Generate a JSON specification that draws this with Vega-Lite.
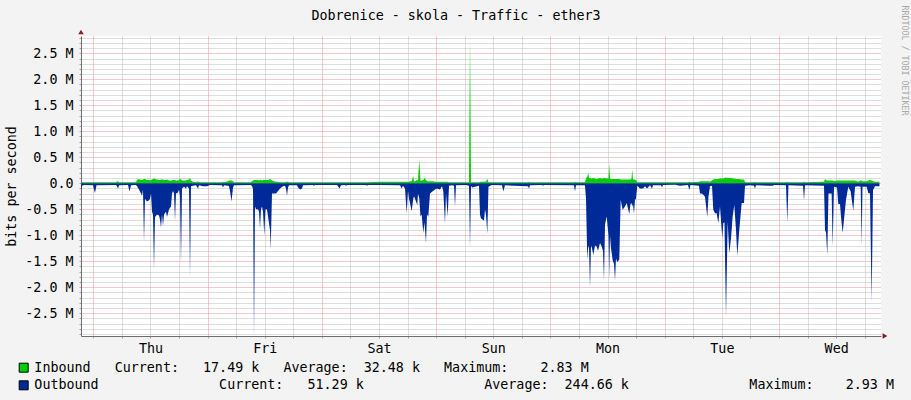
{
  "$schema": "https://vega.github.io/schema/vega-lite/v6.json",
  "width": 800,
  "height": 300,
  "autosize": {"type": "none"},
  "padding": {"left": 81, "top": 36, "right": 30, "bottom": 64},
  "background": "#F3F3F3",
  "config": {
    "view": {"stroke": null, "fill": "#FFFFFF"},
    "font": "DejaVu Sans Mono",
    "axis": {
      "labelFont": "DejaVu Sans Mono",
      "titleFont": "DejaVu Sans Mono",
      "labelFontSize": 13.35,
      "titleFontSize": 13.35,
      "labelColor": "#000000",
      "titleColor": "#000000",
      "titleFontWeight": "normal"
    }
  },
  "data": {
    "values": [
      {"h": -2.58, "i": 0.02, "o": -0.15},
      {"h": -2.37, "i": 0.02, "o": -0.05},
      {"h": -1.95, "i": 0.02, "o": -0.035},
      {"h": -0.06, "i": 0.02, "o": -0.04},
      {"h": 0.15, "i": 0.02, "o": -0.12},
      {"h": 0.36, "i": 0.02, "o": -0.19},
      {"h": 0.67, "i": 0.02, "o": -0.04},
      {"h": 4.77, "i": 0.02, "o": -0.035},
      {"h": 4.98, "i": 0.04, "o": -0.06},
      {"h": 5.19, "i": 0.04, "o": -0.1},
      {"h": 5.4, "i": 0.02, "o": -0.04},
      {"h": 7.29, "i": 0.02, "o": -0.035},
      {"h": 7.6, "i": 0.02, "o": -0.16},
      {"h": 7.92, "i": 0.02, "o": -0.04},
      {"h": 8.97, "i": 0.02, "o": -0.035},
      {"h": 9.18, "i": 0.06, "o": -0.06},
      {"h": 9.6, "i": 0.08, "o": -0.12},
      {"h": 10.02, "i": 0.06, "o": -0.2},
      {"h": 10.23, "i": 0.06, "o": -0.24},
      {"h": 10.44, "i": 0.07, "o": -0.12},
      {"h": 10.65, "i": 0.08, "o": -1.12},
      {"h": 10.86, "i": 0.08, "o": -0.3},
      {"h": 11.28, "i": 0.06, "o": -0.35},
      {"h": 11.7, "i": 0.06, "o": -0.33},
      {"h": 11.91, "i": 0.05, "o": -0.3},
      {"h": 12.12, "i": 0.06, "o": -0.2},
      {"h": 12.33, "i": 0.07, "o": -0.55},
      {"h": 12.54, "i": 0.08, "o": -0.6},
      {"h": 12.75, "i": 0.09, "o": -1.65},
      {"h": 12.96, "i": 0.08, "o": -0.65},
      {"h": 13.38, "i": 0.07, "o": -0.6},
      {"h": 13.8, "i": 0.06, "o": -0.62},
      {"h": 14.01, "i": 0.06, "o": -0.7},
      {"h": 14.22, "i": 0.07, "o": -0.85},
      {"h": 14.43, "i": 0.07, "o": -0.6},
      {"h": 14.64, "i": 0.07, "o": -0.82},
      {"h": 14.85, "i": 0.06, "o": -0.6},
      {"h": 15.27, "i": 0.06, "o": -0.55},
      {"h": 15.48, "i": 0.07, "o": -0.65},
      {"h": 15.9, "i": 0.05, "o": -0.5},
      {"h": 16.32, "i": 0.05, "o": -0.45},
      {"h": 16.53, "i": 0.05, "o": -0.2},
      {"h": 16.74, "i": 0.06, "o": -0.15},
      {"h": 16.95, "i": 0.06, "o": -0.2},
      {"h": 17.16, "i": 0.06, "o": -0.72},
      {"h": 17.37, "i": 0.05, "o": -0.2},
      {"h": 17.79, "i": 0.05, "o": -0.18},
      {"h": 18.0, "i": 0.06, "o": -0.12},
      {"h": 18.21, "i": 0.09, "o": -0.25},
      {"h": 18.42, "i": 0.07, "o": -1.54},
      {"h": 18.63, "i": 0.05, "o": -0.1},
      {"h": 19.05, "i": 0.05, "o": -0.07},
      {"h": 19.47, "i": 0.05, "o": -0.1},
      {"h": 19.68, "i": 0.06, "o": -0.06},
      {"h": 20.1, "i": 0.07, "o": -0.1},
      {"h": 20.31, "i": 0.1, "o": -1.79},
      {"h": 20.52, "i": 0.05, "o": -0.06},
      {"h": 20.94, "i": 0.03, "o": -0.05},
      {"h": 21.57, "i": 0.02, "o": -0.04},
      {"h": 21.99, "i": 0.04, "o": -0.1},
      {"h": 22.2, "i": 0.02, "o": -0.04},
      {"h": 23.04, "i": 0.02, "o": -0.06},
      {"h": 23.88, "i": 0.02, "o": -0.06},
      {"h": 24.51, "i": 0.02, "o": -0.035},
      {"h": 27.03, "i": 0.02, "o": -0.04},
      {"h": 27.24, "i": 0.03, "o": -0.08},
      {"h": 27.45, "i": 0.02, "o": -0.04},
      {"h": 28.29, "i": 0.04, "o": -0.05},
      {"h": 28.5, "i": 0.05, "o": -0.06},
      {"h": 28.71, "i": 0.05, "o": -0.15},
      {"h": 29.02, "i": 0.05, "o": -0.35},
      {"h": 29.34, "i": 0.04, "o": -0.08},
      {"h": 29.55, "i": 0.02, "o": -0.04},
      {"h": 33.12, "i": 0.02, "o": -0.035},
      {"h": 33.33, "i": 0.04, "o": -0.06},
      {"h": 33.54, "i": 0.05, "o": -0.1},
      {"h": 33.75, "i": 0.06, "o": -2.94},
      {"h": 33.96, "i": 0.06, "o": -0.45},
      {"h": 34.17, "i": 0.06, "o": -0.5},
      {"h": 34.59, "i": 0.06, "o": -0.5},
      {"h": 34.8, "i": 0.05, "o": -0.55},
      {"h": 35.01, "i": 0.06, "o": -0.87},
      {"h": 35.22, "i": 0.06, "o": -0.5},
      {"h": 35.43, "i": 0.05, "o": -0.45},
      {"h": 35.64, "i": 0.06, "o": -0.55},
      {"h": 35.91, "i": 0.06, "o": -1.0},
      {"h": 36.16, "i": 0.06, "o": -0.5},
      {"h": 36.48, "i": 0.06, "o": -0.5},
      {"h": 36.79, "i": 0.06, "o": -0.7},
      {"h": 37.11, "i": 0.08, "o": -0.9},
      {"h": 37.25, "i": 0.07, "o": -1.28},
      {"h": 37.53, "i": 0.05, "o": -0.2},
      {"h": 37.95, "i": 0.04, "o": -0.2},
      {"h": 38.37, "i": 0.03, "o": -0.2},
      {"h": 38.79, "i": 0.03, "o": -0.15},
      {"h": 39.21, "i": 0.02, "o": -0.1},
      {"h": 39.84, "i": 0.02, "o": -0.06},
      {"h": 40.26, "i": 0.02, "o": -0.05},
      {"h": 40.47, "i": 0.03, "o": -0.1},
      {"h": 40.68, "i": 0.03, "o": -0.24},
      {"h": 40.89, "i": 0.03, "o": -0.08},
      {"h": 41.1, "i": 0.02, "o": -0.04},
      {"h": 42.78, "i": 0.02, "o": -0.04},
      {"h": 42.99, "i": 0.02, "o": -0.08},
      {"h": 43.41, "i": 0.02, "o": -0.12},
      {"h": 43.83, "i": 0.02, "o": -0.1},
      {"h": 44.04, "i": 0.02, "o": -0.04},
      {"h": 46.14, "i": 0.02, "o": -0.035},
      {"h": 46.35, "i": 0.02, "o": -0.05},
      {"h": 46.56, "i": 0.02, "o": -0.035},
      {"h": 51.18, "i": 0.02, "o": -0.035},
      {"h": 51.39, "i": 0.02, "o": -0.06},
      {"h": 51.7, "i": 0.02, "o": -0.1},
      {"h": 52.02, "i": 0.02, "o": -0.04},
      {"h": 52.86, "i": 0.02, "o": -0.035},
      {"h": 53.07, "i": 0.02, "o": -0.05},
      {"h": 53.28, "i": 0.02, "o": -0.035},
      {"h": 57.27, "i": 0.02, "o": -0.035},
      {"h": 57.48, "i": 0.02, "o": -0.05},
      {"h": 57.69, "i": 0.02, "o": -0.035},
      {"h": 60.21, "i": 0.03, "o": -0.035},
      {"h": 64.41, "i": 0.03, "o": -0.04},
      {"h": 64.76, "i": 0.03, "o": -0.1},
      {"h": 65.04, "i": 0.03, "o": -0.05},
      {"h": 65.46, "i": 0.03, "o": -0.1},
      {"h": 65.81, "i": 0.03, "o": -0.58},
      {"h": 66.09, "i": 0.03, "o": -0.15},
      {"h": 66.3, "i": 0.03, "o": -0.3},
      {"h": 66.51, "i": 0.04, "o": -0.38},
      {"h": 66.86, "i": 0.04, "o": -0.54},
      {"h": 67.2, "i": 0.14, "o": -0.3},
      {"h": 67.35, "i": 0.04, "o": -0.25},
      {"h": 67.56, "i": 0.04, "o": -0.3},
      {"h": 68.04, "i": 0.06, "o": -0.42},
      {"h": 68.19, "i": 0.05, "o": -0.2},
      {"h": 68.46, "i": 0.45, "o": -0.3},
      {"h": 68.71, "i": 0.05, "o": -0.64},
      {"h": 68.96, "i": 0.05, "o": -0.6},
      {"h": 69.3, "i": 0.06, "o": -0.96},
      {"h": 69.55, "i": 0.1, "o": -0.75},
      {"h": 69.87, "i": 0.06, "o": -1.15},
      {"h": 70.08, "i": 0.04, "o": -0.6},
      {"h": 70.35, "i": 0.04, "o": -0.64},
      {"h": 70.71, "i": 0.04, "o": -0.2},
      {"h": 71.34, "i": 0.04, "o": -0.15},
      {"h": 71.76, "i": 0.03, "o": -0.12},
      {"h": 72.18, "i": 0.03, "o": -0.1},
      {"h": 72.81, "i": 0.03, "o": -0.12},
      {"h": 73.23, "i": 0.03, "o": -0.06},
      {"h": 73.5, "i": 0.03, "o": -0.15},
      {"h": 73.86, "i": 0.03, "o": -0.78},
      {"h": 74.07, "i": 0.03, "o": -0.2},
      {"h": 74.42, "i": 0.03, "o": -0.64},
      {"h": 74.7, "i": 0.02, "o": -0.05},
      {"h": 75.33, "i": 0.02, "o": -0.04},
      {"h": 75.75, "i": 0.02, "o": -0.05},
      {"h": 75.96, "i": 0.02, "o": -0.45},
      {"h": 76.17, "i": 0.02, "o": -0.04},
      {"h": 78.27, "i": 0.02, "o": -0.035},
      {"h": 78.9, "i": 0.02, "o": -0.05},
      {"h": 79.11, "i": 2.833, "o": -1.24},
      {"h": 79.32, "i": 0.02, "o": -0.05},
      {"h": 79.53, "i": 0.02, "o": -0.08},
      {"h": 81.0, "i": 0.02, "o": -0.05},
      {"h": 81.21, "i": 0.03, "o": -0.6},
      {"h": 81.42, "i": 0.03, "o": -0.68},
      {"h": 81.73, "i": 0.03, "o": -0.7},
      {"h": 82.05, "i": 0.03, "o": -0.72},
      {"h": 82.26, "i": 0.03, "o": -0.5},
      {"h": 82.47, "i": 0.04, "o": -0.6},
      {"h": 82.74, "i": 0.08, "o": -0.97},
      {"h": 82.99, "i": 0.02, "o": -0.07},
      {"h": 83.31, "i": 0.02, "o": -0.05},
      {"h": 83.73, "i": 0.02, "o": -0.035},
      {"h": 85.83, "i": 0.02, "o": -0.04},
      {"h": 86.1, "i": 0.02, "o": -0.16},
      {"h": 86.46, "i": 0.02, "o": -0.04},
      {"h": 91.29, "i": 0.02, "o": -0.06},
      {"h": 91.5, "i": 0.03, "o": -0.1},
      {"h": 91.71, "i": 0.02, "o": -0.04},
      {"h": 94.23, "i": 0.02, "o": -0.035},
      {"h": 94.44, "i": 0.02, "o": -0.05},
      {"h": 94.65, "i": 0.02, "o": -0.035},
      {"h": 100.95, "i": 0.02, "o": -0.04},
      {"h": 101.16, "i": 0.03, "o": -0.16},
      {"h": 101.37, "i": 0.02, "o": -0.04},
      {"h": 103.26, "i": 0.02, "o": -0.04},
      {"h": 103.47, "i": 0.1, "o": -0.3},
      {"h": 103.74, "i": 0.12, "o": -1.47},
      {"h": 103.95, "i": 0.2, "o": -1.2},
      {"h": 104.1, "i": 0.1, "o": -1.25},
      {"h": 104.31, "i": 0.1, "o": -2.0},
      {"h": 104.52, "i": 0.09, "o": -1.2},
      {"h": 104.73, "i": 0.09, "o": -1.25},
      {"h": 105.0, "i": 0.1, "o": -1.38},
      {"h": 105.36, "i": 0.09, "o": -1.2},
      {"h": 105.71, "i": 0.08, "o": -1.22},
      {"h": 105.99, "i": 0.09, "o": -1.3},
      {"h": 106.41, "i": 0.1, "o": -1.15},
      {"h": 106.76, "i": 0.09, "o": -1.22},
      {"h": 107.04, "i": 0.09, "o": -1.3},
      {"h": 107.25, "i": 0.1, "o": -1.87},
      {"h": 107.46, "i": 0.1, "o": -0.8},
      {"h": 107.81, "i": 0.09, "o": -0.64},
      {"h": 108.19, "i": 0.09, "o": -1.0},
      {"h": 108.34, "i": 0.37, "o": -1.83},
      {"h": 108.51, "i": 0.09, "o": -1.0},
      {"h": 108.72, "i": 0.08, "o": -1.25},
      {"h": 109.07, "i": 0.08, "o": -1.48},
      {"h": 109.35, "i": 0.08, "o": -1.55},
      {"h": 109.56, "i": 0.08, "o": -1.87},
      {"h": 109.77, "i": 0.08, "o": -1.45},
      {"h": 110.04, "i": 0.08, "o": -1.52},
      {"h": 110.46, "i": 0.08, "o": -1.47},
      {"h": 110.75, "i": 0.07, "o": -0.32},
      {"h": 111.17, "i": 0.07, "o": -0.51},
      {"h": 111.66, "i": 0.07, "o": -0.45},
      {"h": 112.01, "i": 0.07, "o": -0.38},
      {"h": 112.56, "i": 0.07, "o": -0.59},
      {"h": 112.81, "i": 0.07, "o": -0.4},
      {"h": 113.02, "i": 0.08, "o": -0.38},
      {"h": 113.19, "i": 0.26, "o": -0.45},
      {"h": 113.34, "i": 0.07, "o": -0.4},
      {"h": 113.55, "i": 0.07, "o": -0.59},
      {"h": 113.76, "i": 0.07, "o": -0.32},
      {"h": 113.97, "i": 0.06, "o": -0.3},
      {"h": 114.24, "i": 0.02, "o": -0.05},
      {"h": 114.81, "i": 0.02, "o": -0.1},
      {"h": 115.44, "i": 0.02, "o": -0.1},
      {"h": 115.86, "i": 0.02, "o": -0.06},
      {"h": 116.28, "i": 0.02, "o": -0.1},
      {"h": 116.91, "i": 0.02, "o": -0.04},
      {"h": 117.33, "i": 0.02, "o": -0.1},
      {"h": 117.54, "i": 0.02, "o": -0.04},
      {"h": 119.22, "i": 0.02, "o": -0.04},
      {"h": 119.43, "i": 0.02, "o": -0.08},
      {"h": 119.64, "i": 0.02, "o": -0.035},
      {"h": 122.16, "i": 0.02, "o": -0.03},
      {"h": 123.21, "i": 0.02, "o": -0.05},
      {"h": 124.89, "i": 0.02, "o": -0.035},
      {"h": 125.16, "i": 0.03, "o": -0.13},
      {"h": 125.41, "i": 0.02, "o": -0.035},
      {"h": 127.2, "i": 0.03, "o": -0.05},
      {"h": 127.41, "i": 0.04, "o": -0.2},
      {"h": 127.76, "i": 0.04, "o": -0.2},
      {"h": 128.1, "i": 0.04, "o": -0.22},
      {"h": 128.46, "i": 0.04, "o": -0.26},
      {"h": 128.94, "i": 0.04, "o": -0.65},
      {"h": 129.19, "i": 0.04, "o": -0.26},
      {"h": 129.51, "i": 0.03, "o": -0.06},
      {"h": 129.93, "i": 0.05, "o": -0.05},
      {"h": 130.2, "i": 0.07, "o": -0.51},
      {"h": 130.56, "i": 0.08, "o": -0.58},
      {"h": 130.91, "i": 0.08, "o": -0.58},
      {"h": 131.25, "i": 0.08, "o": -0.77},
      {"h": 131.61, "i": 0.09, "o": -0.45},
      {"h": 132.09, "i": 0.09, "o": -1.06},
      {"h": 132.3, "i": 0.09, "o": -0.77},
      {"h": 132.55, "i": 0.1, "o": -0.75},
      {"h": 132.87, "i": 0.11, "o": -2.58},
      {"h": 133.22, "i": 0.1, "o": -0.74},
      {"h": 133.56, "i": 0.1, "o": -1.35},
      {"h": 133.92, "i": 0.1, "o": -1.06},
      {"h": 134.27, "i": 0.09, "o": -0.64},
      {"h": 134.61, "i": 0.09, "o": -0.42},
      {"h": 134.97, "i": 0.08, "o": -0.9},
      {"h": 135.24, "i": 0.08, "o": -1.4},
      {"h": 135.66, "i": 0.08, "o": -0.9},
      {"h": 136.16, "i": 0.07, "o": -0.38},
      {"h": 136.65, "i": 0.07, "o": -0.38},
      {"h": 136.86, "i": 0.02, "o": -0.05},
      {"h": 137.91, "i": 0.02, "o": -0.04},
      {"h": 138.75, "i": 0.02, "o": -0.05},
      {"h": 138.96, "i": 0.03, "o": -0.1},
      {"h": 139.17, "i": 0.02, "o": -0.04},
      {"h": 142.11, "i": 0.02, "o": -0.05},
      {"h": 142.74, "i": 0.02, "o": -0.05},
      {"h": 142.95, "i": 0.02, "o": -0.035},
      {"h": 145.47, "i": 0.02, "o": -0.04},
      {"h": 145.74, "i": 0.03, "o": -0.74},
      {"h": 145.99, "i": 0.02, "o": -0.04},
      {"h": 149.04, "i": 0.02, "o": -0.05},
      {"h": 149.25, "i": 0.03, "o": -0.33},
      {"h": 149.46, "i": 0.02, "o": -0.04},
      {"h": 153.45, "i": 0.03, "o": -0.05},
      {"h": 153.66, "i": 0.08, "o": -0.9},
      {"h": 153.87, "i": 0.06, "o": -0.95},
      {"h": 154.14, "i": 0.05, "o": -1.38},
      {"h": 154.39, "i": 0.05, "o": -0.2},
      {"h": 154.71, "i": 0.05, "o": -0.2},
      {"h": 155.06, "i": 0.05, "o": -0.2},
      {"h": 155.27, "i": 0.05, "o": -1.22},
      {"h": 155.55, "i": 0.04, "o": -0.07},
      {"h": 156.18, "i": 0.05, "o": -0.08},
      {"h": 156.45, "i": 0.05, "o": -0.4},
      {"h": 156.81, "i": 0.05, "o": -0.4},
      {"h": 157.02, "i": 0.05, "o": -0.64},
      {"h": 157.37, "i": 0.05, "o": -0.96},
      {"h": 157.71, "i": 0.05, "o": -0.64},
      {"h": 158.07, "i": 0.05, "o": -0.32},
      {"h": 158.55, "i": 0.05, "o": -0.07},
      {"h": 159.05, "i": 0.05, "o": -0.16},
      {"h": 159.6, "i": 0.05, "o": -0.53},
      {"h": 159.96, "i": 0.05, "o": -0.07},
      {"h": 160.59, "i": 0.03, "o": -0.06},
      {"h": 161.15, "i": 0.05, "o": -0.07},
      {"h": 161.36, "i": 0.05, "o": -1.2},
      {"h": 161.53, "i": 0.04, "o": -0.07},
      {"h": 162.41, "i": 0.04, "o": -0.07},
      {"h": 162.75, "i": 0.05, "o": -0.19},
      {"h": 163.11, "i": 0.06, "o": -0.2},
      {"h": 163.46, "i": 0.05, "o": -2.28},
      {"h": 163.74, "i": 0.04, "o": -0.13},
      {"h": 164.16, "i": 0.03, "o": -0.06},
      {"h": 165.1, "i": 0.03, "o": -0.06}
    ]
  },
  "resolve": {
    "scale": {"x": "shared", "y": "shared", "color": "shared"},
    "axis": {"x": "independent", "y": "independent"}
  },
  "layer": [
    {
      "mark": {"type": "area", "interpolate": "linear", "opacity": 1, "clip": true},
      "encoding": {
        "x": {
          "field": "h",
          "type": "quantitative",
          "scale": {"domain": [-2.58, 165.42], "nice": false, "zero": false},
          "axis": {
            "orient": "bottom",
            "title": null,
            "values": [0, 6, 12, 18, 24, 30, 36, 42, 48, 54, 60, 66, 72, 78, 84, 90, 96, 102, 108, 114, 120, 126, 132, 138, 144, 150, 156, 162],
            "grid": true,
            "gridDash": [1, 1],
            "gridWidth": 1,
            "gridColor": {"condition": {"test": "datum.value % 24 === 0", "value": "#F39090"}, "value": "#BDBDBD"},
            "tickColor": {"condition": {"test": "datum.value % 24 === 0", "value": "#F39090"}, "value": "#A0A0A0"},
            "tickSize": 2,
            "domainColor": "#6E6E6E",
            "labelExpr": "datum.value % 24 === 12 ? ['Thu','Fri','Sat','Sun','Mon','Tue','Wed'][floor(datum.value / 24)] : ''",
            "labelPadding": 3,
            "labelFlush": false,
            "labelOverlap": false,
            "labelAlign": "center",
            "labelBaseline": "top"
          }
        },
        "y": {
          "field": "i",
          "type": "quantitative",
          "scale": {"domain": [-2.94, 2.833], "nice": false},
          "axis": {
            "orient": "left",
            "title": "bits per second",
            "titleX": -66,
            "titleBaseline": "alphabetic",
            "values": [-2.9, -2.8, -2.7, -2.6, -2.5, -2.4, -2.3, -2.2, -2.1, -2, -1.9, -1.8, -1.7, -1.6, -1.5, -1.4, -1.3, -1.2, -1.1, -1, -0.9, -0.8, -0.7, -0.6, -0.5, -0.4, -0.3, -0.2, -0.1, 0, 0.1, 0.2, 0.3, 0.4, 0.5, 0.6, 0.7, 0.8, 0.9, 1, 1.1, 1.2, 1.3, 1.4, 1.5, 1.6, 1.7, 1.8, 1.9, 2, 2.1, 2.2, 2.3, 2.4, 2.5, 2.6, 2.7, 2.8],
            "grid": true,
            "gridDash": [1, 1],
            "gridWidth": 1,
            "gridColor": {"condition": {"test": "abs(datum.value * 2 - round(datum.value * 2)) < 0.01", "value": "#F39090"}, "value": "#BDBDBD"},
            "tickColor": {"condition": {"test": "abs(datum.value * 2 - round(datum.value * 2)) < 0.01", "value": "#F39090"}, "value": "#A0A0A0"},
            "tickSize": 2,
            "domainColor": "#6E6E6E",
            "labelExpr": "abs(datum.value * 2 - round(datum.value * 2)) < 0.01 ? (abs(datum.value) < 0.01 ? '0.0' : (datum.value < 0 ? '-' : '') + format(abs(datum.value), '.1f') + ' M') : ''",
            "labelPadding": 6,
            "labelOverlap": false,
            "labelFlush": false,
            "labelBaseline": "middle"
          }
        },
        "color": {
          "datum": "Inbound",
          "type": "nominal",
          "scale": {"domain": ["Inbound", "Outbound"], "range": ["#00CF00", "#002A97"]},
          "legend": {
            "orient": "none",
            "legendX": -64,
            "legendY": 325,
            "direction": "vertical",
            "title": null,
            "padding": 0,
            "symbolType": "square",
            "symbolSize": 81,
            "symbolStrokeColor": "#000000",
            "symbolStrokeWidth": 1,
            "symbolOpacity": 1,
            "labelFont": "DejaVu Sans Mono",
            "labelFontSize": 13.35,
            "labelColor": "#000000",
            "labelOffset": 4,
            "labelLimit": 0,
            "rowPadding": 2.65,
            "labelExpr": "datum.label === 'Inbound' ? 'Inbound\u00a0\u00a0\u00a0Current:\u00a0\u00a0\u00a017.49\u00a0k\u00a0\u00a0\u00a0Average:\u00a0\u00a032.48\u00a0k\u00a0\u00a0\u00a0Maximum:\u00a0\u00a0\u00a0\u00a02.83\u00a0M' : 'Outbound\u00a0\u00a0\u00a0\u00a0\u00a0\u00a0\u00a0\u00a0\u00a0\u00a0\u00a0\u00a0\u00a0\u00a0\u00a0Current:\u00a0\u00a0\u00a051.29\u00a0k\u00a0\u00a0\u00a0\u00a0\u00a0\u00a0\u00a0\u00a0\u00a0\u00a0\u00a0\u00a0\u00a0\u00a0\u00a0Average:\u00a0\u00a0244.66\u00a0k\u00a0\u00a0\u00a0\u00a0\u00a0\u00a0\u00a0\u00a0\u00a0\u00a0\u00a0\u00a0\u00a0\u00a0\u00a0Maximum:\u00a0\u00a0\u00a0\u00a02.93\u00a0M'"
          }
        }
      }
    },
    {
      "mark": {"type": "area", "interpolate": "linear", "opacity": 1, "clip": true},
      "encoding": {
        "x": {
          "field": "h",
          "type": "quantitative",
          "axis": {
            "orient": "top",
            "title": "Dobrenice - skola - Traffic - ether3",
            "titleX": 374.5,
            "titleY": -17,
            "titleAlign": "center",
            "titleBaseline": "alphabetic",
            "labels": false,
            "ticks": false,
            "domain": false,
            "grid": false
          }
        },
        "y": {
          "field": "o",
          "type": "quantitative",
          "axis": {
            "orient": "right",
            "title": "RRDTOOL / TOBI OETIKER",
            "titleAngle": 90,
            "titleX": 22,
            "titleY": -31,
            "titleAlign": "left",
            "titleBaseline": "middle",
            "titleFontSize": 8.3,
            "titleColor": "#A8A8A8",
            "labels": false,
            "ticks": false,
            "domain": false,
            "grid": false
          }
        },
        "color": {"datum": "Outbound", "type": "nominal"}
      }
    },
    {
      "data": {"values": [{"arrow": "y"}]},
      "mark": {"type": "point", "shape": "triangle-up", "filled": true, "size": 30, "color": "#8B1A1A", "opacity": 1, "yOffset": -4},
      "encoding": {
        "x": {"datum": -2.58, "type": "quantitative", "axis": null},
        "y": {"datum": 2.833, "type": "quantitative", "axis": null}
      }
    },
    {
      "data": {"values": [{"arrow": "x"}]},
      "mark": {"type": "point", "shape": "triangle-right", "filled": true, "size": 30, "color": "#8B1A1A", "opacity": 1, "xOffset": 4},
      "encoding": {
        "x": {"datum": 165.42, "type": "quantitative", "axis": null},
        "y": {"datum": -2.94, "type": "quantitative", "axis": null}
      }
    }
  ]
}
